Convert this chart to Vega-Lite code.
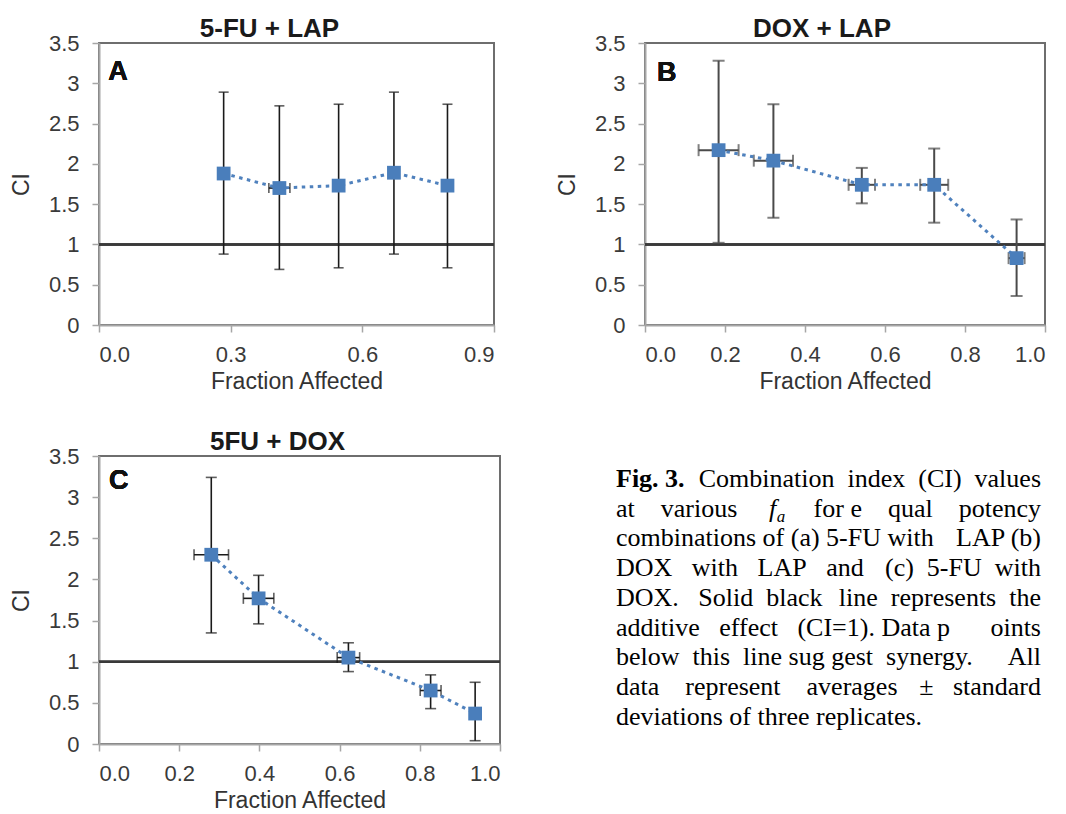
{
  "$schema": "https://vega.github.io/schema/vega-lite/v6.json",
  "background": "white",
  "padding": {"left": 9, "top": 15, "right": 0, "bottom": 0},
  "config": {
    "view": {"stroke": "#6e6e6e", "strokeWidth": 2},
    "axis": {"grid": false, "labelOverlap": false, "domainColor": "#a6a6a6", "domainWidth": 2, "tickColor": "#a6a6a6", "tickWidth": 1.5, "tickSize": 7,
      "labelFont": "Liberation Sans", "labelFontSize": 22, "labelColor": "#3a3a3a",
      "titleFont": "Liberation Sans", "titleFontSize": 23, "titleFontWeight": "normal", "titleColor": "#333333"},
    "axisX": {"labelPadding": 12, "titlePadding": 5},
    "axisY": {"labelPadding": 13, "titlePadding": 15},
    "title": {"font": "Liberation Sans", "fontSize": 26, "fontWeight": "bold", "color": "#1a1a1a", "offset": -10, "frame": "group", "baseline": "alphabetic"}
  },
  "spacing": 34,
  "vconcat": [
    {
      "spacing": 59,
      "hconcat": [
        {
          "width": 395, "height": 282,
          "title": {"text": "5-FU + LAP", "dx": -27},
          "data": {"values": [
            {"fa": 0.284, "ci": 1.88, "ci_lo": 0.88, "ci_hi": 2.89, "fa_lo": 0.272, "fa_hi": 0.296},
            {"fa": 0.411, "ci": 1.70, "ci_lo": 0.69, "ci_hi": 2.72, "fa_lo": 0.387, "fa_hi": 0.435},
            {"fa": 0.546, "ci": 1.73, "ci_lo": 0.71, "ci_hi": 2.74, "fa_lo": 0.540, "fa_hi": 0.552},
            {"fa": 0.672, "ci": 1.89, "ci_lo": 0.88, "ci_hi": 2.89, "fa_lo": 0.665, "fa_hi": 0.679},
            {"fa": 0.794, "ci": 1.73, "ci_lo": 0.71, "ci_hi": 2.74, "fa_lo": 0.785, "fa_hi": 0.803}
          ]},
          "layer": [
            {"mark": {"type": "rule", "color": "#3a3a3a", "strokeWidth": 2},
             "encoding": {"y": {"datum": 1, "type": "quantitative", "scale": {"domain": [0, 3.5], "nice": false}, "title": "CI", "axis": {"values": [0, 0.5, 1, 1.5, 2, 2.5, 3, 3.5], "format": ".1~f"}}}},
            {"mark": {"type": "errorbar", "orient": "vertical", "color": "#1a1a1a", "rule": {"strokeWidth": 1.6}, "ticks": {"size": 10, "thickness": 1.6}},
             "encoding": {
               "x": {"field": "fa", "type": "quantitative", "scale": {"domain": [0, 0.9], "nice": false, "zero": false}, "title": "Fraction Affected", "axis": {"values": [0, 0.3, 0.6, 0.9], "format": ".1f"}},
               "y": {"field": "ci_lo", "type": "quantitative", "scale": {"domain": [0, 3.5], "nice": false}, "title": "CI", "axis": {"values": [0, 0.5, 1, 1.5, 2, 2.5, 3, 3.5], "format": ".1~f"}},
               "y2": {"field": "ci_hi"}}},
            {"mark": {"type": "errorbar", "orient": "horizontal", "color": "#1a1a1a", "rule": {"strokeWidth": 1.6}, "ticks": {"size": 10, "thickness": 1.6}},
             "encoding": {
               "x": {"field": "fa_lo", "type": "quantitative", "scale": {"domain": [0, 0.9], "nice": false, "zero": false}, "title": "Fraction Affected", "axis": {"values": [0, 0.3, 0.6, 0.9], "format": ".1f"}},
               "x2": {"field": "fa_hi"},
               "y": {"field": "ci", "type": "quantitative", "scale": {"domain": [0, 3.5], "nice": false}, "title": "CI", "axis": {"values": [0, 0.5, 1, 1.5, 2, 2.5, 3, 3.5], "format": ".1~f"}}}},
            {"mark": {"type": "line", "color": "#4F81BD", "strokeWidth": 3, "strokeDash": [3.5, 4.5]},
             "encoding": {
               "x": {"field": "fa", "type": "quantitative", "scale": {"domain": [0, 0.9], "nice": false, "zero": false}, "title": "Fraction Affected", "axis": {"values": [0, 0.3, 0.6, 0.9], "format": ".1f"}},
               "y": {"field": "ci", "type": "quantitative", "scale": {"domain": [0, 3.5], "nice": false}, "title": "CI", "axis": {"values": [0, 0.5, 1, 1.5, 2, 2.5, 3, 3.5], "format": ".1~f"}}}},
            {"mark": {"type": "point", "shape": "square", "filled": true, "size": 190, "color": "#4a7ebb", "opacity": 1},
             "encoding": {
               "x": {"field": "fa", "type": "quantitative", "scale": {"domain": [0, 0.9], "nice": false, "zero": false}, "title": "Fraction Affected", "axis": {"values": [0, 0.3, 0.6, 0.9], "format": ".1f"}},
               "y": {"field": "ci", "type": "quantitative", "scale": {"domain": [0, 3.5], "nice": false}, "title": "CI", "axis": {"values": [0, 0.5, 1, 1.5, 2, 2.5, 3, 3.5], "format": ".1~f"}}}},
            {"mark": {"type": "text", "text": "A", "font": "Liberation Sans", "fontSize": 27, "fontWeight": "bold", "align": "left", "baseline": "alphabetic", "color": "#111111"},
             "encoding": {
               "x": {"datum": 0.021, "type": "quantitative"},
               "y": {"datum": 3.04, "type": "quantitative"}}}
          ]
        },
        {
          "width": 400, "height": 282,
          "title": {"text": "DOX + LAP", "dx": -23},
          "data": {"values": [
            {"fa": 0.184, "ci": 2.17, "ci_lo": 1.02, "ci_hi": 3.28, "fa_lo": 0.134, "fa_hi": 0.234},
            {"fa": 0.321, "ci": 2.04, "ci_lo": 1.33, "ci_hi": 2.74, "fa_lo": 0.272, "fa_hi": 0.370},
            {"fa": 0.542, "ci": 1.74, "ci_lo": 1.51, "ci_hi": 1.95, "fa_lo": 0.509, "fa_hi": 0.575},
            {"fa": 0.723, "ci": 1.74, "ci_lo": 1.27, "ci_hi": 2.19, "fa_lo": 0.688, "fa_hi": 0.758},
            {"fa": 0.929, "ci": 0.83, "ci_lo": 0.36, "ci_hi": 1.31, "fa_lo": 0.909, "fa_hi": 0.949}
          ]},
          "layer": [
            {"mark": {"type": "rule", "color": "#3a3a3a", "strokeWidth": 2},
             "encoding": {"y": {"datum": 1, "type": "quantitative", "scale": {"domain": [0, 3.5], "nice": false}, "title": "CI", "axis": {"values": [0, 0.5, 1, 1.5, 2, 2.5, 3, 3.5], "format": ".1~f", "labelOverlap": false}}}},
            {"mark": {"type": "errorbar", "orient": "vertical", "color": "#4a4a4a", "rule": {"strokeWidth": 2}, "ticks": {"size": 12, "thickness": 2}},
             "encoding": {
               "x": {"field": "fa", "type": "quantitative", "scale": {"domain": [0, 1], "nice": false, "zero": false}, "title": "Fraction Affected", "axis": {"values": [0, 0.2, 0.4, 0.6, 0.8, 1], "format": ".1f"}},
               "y": {"field": "ci_lo", "type": "quantitative", "scale": {"domain": [0, 3.5], "nice": false}, "title": "CI", "axis": {"values": [0, 0.5, 1, 1.5, 2, 2.5, 3, 3.5], "format": ".1~f", "labelOverlap": false}},
               "y2": {"field": "ci_hi"}}},
            {"mark": {"type": "errorbar", "orient": "horizontal", "color": "#4a4a4a", "rule": {"strokeWidth": 2}, "ticks": {"size": 12, "thickness": 2}},
             "encoding": {
               "x": {"field": "fa_lo", "type": "quantitative", "scale": {"domain": [0, 1], "nice": false, "zero": false}, "title": "Fraction Affected", "axis": {"values": [0, 0.2, 0.4, 0.6, 0.8, 1], "format": ".1f"}},
               "x2": {"field": "fa_hi"},
               "y": {"field": "ci", "type": "quantitative", "scale": {"domain": [0, 3.5], "nice": false}, "title": "CI", "axis": {"values": [0, 0.5, 1, 1.5, 2, 2.5, 3, 3.5], "format": ".1~f", "labelOverlap": false}}}},
            {"mark": {"type": "line", "color": "#4F81BD", "strokeWidth": 3, "strokeDash": [3.5, 4.5]},
             "encoding": {
               "x": {"field": "fa", "type": "quantitative", "scale": {"domain": [0, 1], "nice": false, "zero": false}, "title": "Fraction Affected", "axis": {"values": [0, 0.2, 0.4, 0.6, 0.8, 1], "format": ".1f"}},
               "y": {"field": "ci", "type": "quantitative", "scale": {"domain": [0, 3.5], "nice": false}, "title": "CI", "axis": {"values": [0, 0.5, 1, 1.5, 2, 2.5, 3, 3.5], "format": ".1~f", "labelOverlap": false}}}},
            {"mark": {"type": "point", "shape": "square", "filled": true, "size": 190, "color": "#4a7ebb", "opacity": 1},
             "encoding": {
               "x": {"field": "fa", "type": "quantitative", "scale": {"domain": [0, 1], "nice": false, "zero": false}, "title": "Fraction Affected", "axis": {"values": [0, 0.2, 0.4, 0.6, 0.8, 1], "format": ".1f"}},
               "y": {"field": "ci", "type": "quantitative", "scale": {"domain": [0, 3.5], "nice": false}, "title": "CI", "axis": {"values": [0, 0.5, 1, 1.5, 2, 2.5, 3, 3.5], "format": ".1~f", "labelOverlap": false}}}},
            {"mark": {"type": "text", "text": "B", "font": "Liberation Sans", "fontSize": 27, "fontWeight": "bold", "align": "left", "baseline": "alphabetic", "color": "#111111"},
             "encoding": {
               "x": {"datum": 0.03, "type": "quantitative"},
               "y": {"datum": 3.03, "type": "quantitative"}}}
          ]
        }
      ]
    },
    {
      "spacing": 114,
      "hconcat": [
        {
          "width": 401, "height": 288,
          "title": {"text": "5FU +  DOX", "dx": -22},
          "data": {"values": [
            {"fa": 0.280, "ci": 2.30, "ci_lo": 1.35, "ci_hi": 3.24, "fa_lo": 0.237, "fa_hi": 0.323},
            {"fa": 0.398, "ci": 1.77, "ci_lo": 1.46, "ci_hi": 2.05, "fa_lo": 0.360, "fa_hi": 0.436},
            {"fa": 0.622, "ci": 1.05, "ci_lo": 0.88, "ci_hi": 1.23, "fa_lo": 0.594, "fa_hi": 0.650},
            {"fa": 0.827, "ci": 0.65, "ci_lo": 0.43, "ci_hi": 0.84, "fa_lo": 0.801, "fa_hi": 0.853},
            {"fa": 0.938, "ci": 0.37, "ci_lo": 0.04, "ci_hi": 0.75, "fa_lo": 0.930, "fa_hi": 0.946}
          ]},
          "layer": [
            {"mark": {"type": "rule", "color": "#3a3a3a", "strokeWidth": 2},
             "encoding": {"y": {"datum": 1, "type": "quantitative", "scale": {"domain": [0, 3.5], "nice": false}, "title": "CI", "axis": {"values": [0, 0.5, 1, 1.5, 2, 2.5, 3, 3.5], "format": ".1~f"}}}},
            {"mark": {"type": "errorbar", "orient": "vertical", "color": "#1a1a1a", "rule": {"strokeWidth": 1.6}, "ticks": {"size": 11, "thickness": 1.6}},
             "encoding": {
               "x": {"field": "fa", "type": "quantitative", "scale": {"domain": [0, 1], "nice": false, "zero": false}, "title": "Fraction Affected", "axis": {"values": [0, 0.2, 0.4, 0.6, 0.8, 1], "format": ".1f"}},
               "y": {"field": "ci_lo", "type": "quantitative", "scale": {"domain": [0, 3.5], "nice": false}, "title": "CI", "axis": {"values": [0, 0.5, 1, 1.5, 2, 2.5, 3, 3.5], "format": ".1~f"}},
               "y2": {"field": "ci_hi"}}},
            {"mark": {"type": "errorbar", "orient": "horizontal", "color": "#1a1a1a", "rule": {"strokeWidth": 1.6}, "ticks": {"size": 11, "thickness": 1.6}},
             "encoding": {
               "x": {"field": "fa_lo", "type": "quantitative", "scale": {"domain": [0, 1], "nice": false, "zero": false}, "title": "Fraction Affected", "axis": {"values": [0, 0.2, 0.4, 0.6, 0.8, 1], "format": ".1f"}},
               "x2": {"field": "fa_hi"},
               "y": {"field": "ci", "type": "quantitative", "scale": {"domain": [0, 3.5], "nice": false}, "title": "CI", "axis": {"values": [0, 0.5, 1, 1.5, 2, 2.5, 3, 3.5], "format": ".1~f"}}}},
            {"mark": {"type": "line", "color": "#4F81BD", "strokeWidth": 3, "strokeDash": [3.5, 4.5]},
             "encoding": {
               "x": {"field": "fa", "type": "quantitative", "scale": {"domain": [0, 1], "nice": false, "zero": false}, "title": "Fraction Affected", "axis": {"values": [0, 0.2, 0.4, 0.6, 0.8, 1], "format": ".1f"}},
               "y": {"field": "ci", "type": "quantitative", "scale": {"domain": [0, 3.5], "nice": false}, "title": "CI", "axis": {"values": [0, 0.5, 1, 1.5, 2, 2.5, 3, 3.5], "format": ".1~f"}}}},
            {"mark": {"type": "point", "shape": "square", "filled": true, "size": 190, "color": "#4a7ebb", "opacity": 1},
             "encoding": {
               "x": {"field": "fa", "type": "quantitative", "scale": {"domain": [0, 1], "nice": false, "zero": false}, "title": "Fraction Affected", "axis": {"values": [0, 0.2, 0.4, 0.6, 0.8, 1], "format": ".1f"}},
               "y": {"field": "ci", "type": "quantitative", "scale": {"domain": [0, 3.5], "nice": false}, "title": "CI", "axis": {"values": [0, 0.5, 1, 1.5, 2, 2.5, 3, 3.5], "format": ".1~f"}}}},
            {"mark": {"type": "text", "text": "C", "font": "Liberation Sans", "fontSize": 27, "fontWeight": "bold", "align": "left", "baseline": "alphabetic", "color": "#111111"},
             "encoding": {
               "x": {"datum": 0.025, "type": "quantitative"},
               "y": {"datum": 3.1, "type": "quantitative"}}}
          ]
        },
        {
          "width": 425, "height": 288,
          "view": {"stroke": null},
          "layer": [
            {
              "data": {"values": [
                {"line": 1, "left": "", "right": "Combination\u00a0\u00a0index\u00a0\u00a0(CI)\u00a0\u00a0values"},
                {"line": 2, "left": "at\u00a0\u00a0\u00a0\u00a0various", "right": "for e\u00a0\u00a0\u00a0\u00a0qual\u00a0\u00a0\u00a0\u00a0potency"},
                {"line": 3, "left": "combinations of (a) 5-FU with", "right": "LAP (b)"},
                {"line": 4, "left": "DOX\u00a0\u00a0\u00a0with\u00a0\u00a0\u00a0LAP\u00a0\u00a0\u00a0and", "right": "(c)\u00a0\u00a05-FU\u00a0\u00a0with"},
                {"line": 5, "left": "DOX.\u00a0\u00a0\u00a0Solid\u00a0\u00a0black", "right": "line\u00a0\u00a0represents\u00a0\u00a0the"},
                {"line": 6, "left": "additive\u00a0\u00a0\u00a0effect\u00a0\u00a0\u00a0(CI=1).\u00a0Data\u00a0p", "right": "oints"},
                {"line": 7, "left": "below\u00a0\u00a0this\u00a0\u00a0line sug gest\u00a0\u00a0synergy.", "right": "All"},
                {"line": 8, "left": "data\u00a0\u00a0\u00a0\u00a0represent\u00a0\u00a0\u00a0\u00a0averages", "right": "±\u00a0\u00a0\u00a0standard"},
                {"line": 9, "left": "deviations of three replicates.", "right": ""}
              ]},
              "layer": [
                {"mark": {"type": "text", "font": "Liberation Serif", "fontSize": 26, "align": "left", "baseline": "alphabetic", "color": "#000000"},
                 "encoding": {
                   "x": {"datum": 0, "type": "quantitative", "scale": {"domain": [0, 1], "nice": false, "zero": false}, "axis": null},
                   "y": {"field": "line", "type": "quantitative", "scale": {"domain": [-0.044, 9.653], "nice": false, "zero": false, "reverse": true}, "axis": null},
                   "text": {"field": "left"}}},
                {"mark": {"type": "text", "font": "Liberation Serif", "fontSize": 26, "align": "right", "baseline": "alphabetic", "color": "#000000"},
                 "encoding": {
                   "x": {"datum": 1, "type": "quantitative", "scale": {"domain": [0, 1], "nice": false, "zero": false}, "axis": null},
                   "y": {"field": "line", "type": "quantitative", "scale": {"domain": [-0.044, 9.653], "nice": false, "zero": false, "reverse": true}, "axis": null},
                   "text": {"field": "right"}}}
              ]
            },
            {
              "data": {"values": [{"line": 1, "t": "Fig. 3."}]},
              "mark": {"type": "text", "font": "Liberation Serif", "fontSize": 26, "fontWeight": "bold", "align": "left", "baseline": "alphabetic", "color": "#000000"},
              "encoding": {
                "x": {"datum": 0, "type": "quantitative", "scale": {"domain": [0, 1], "nice": false, "zero": false}, "axis": null},
                "y": {"field": "line", "type": "quantitative", "scale": {"domain": [-0.044, 9.653], "nice": false, "zero": false, "reverse": true}, "axis": null},
                "text": {"field": "t"}}
            },
            {
              "data": {"values": [{"line": 2, "t": "f"}]},
              "mark": {"type": "text", "font": "Liberation Serif", "fontSize": 26, "fontStyle": "italic", "align": "left", "baseline": "alphabetic", "color": "#000000"},
              "encoding": {
                "x": {"datum": 0.36, "type": "quantitative", "scale": {"domain": [0, 1], "nice": false, "zero": false}, "axis": null},
                "y": {"field": "line", "type": "quantitative", "scale": {"domain": [-0.044, 9.653], "nice": false, "zero": false, "reverse": true}, "axis": null},
                "text": {"field": "t"}}
            },
            {
              "data": {"values": [{"line": 2, "t": "a"}]},
              "mark": {"type": "text", "font": "Liberation Serif", "fontSize": 17, "fontStyle": "italic", "align": "left", "baseline": "alphabetic", "dy": 5, "color": "#000000"},
              "encoding": {
                "x": {"datum": 0.378, "type": "quantitative", "scale": {"domain": [0, 1], "nice": false, "zero": false}, "axis": null},
                "y": {"field": "line", "type": "quantitative", "scale": {"domain": [-0.044, 9.653], "nice": false, "zero": false, "reverse": true}, "axis": null},
                "text": {"field": "t"}}
            }
          ]
        }
      ]
    }
  ]
}
